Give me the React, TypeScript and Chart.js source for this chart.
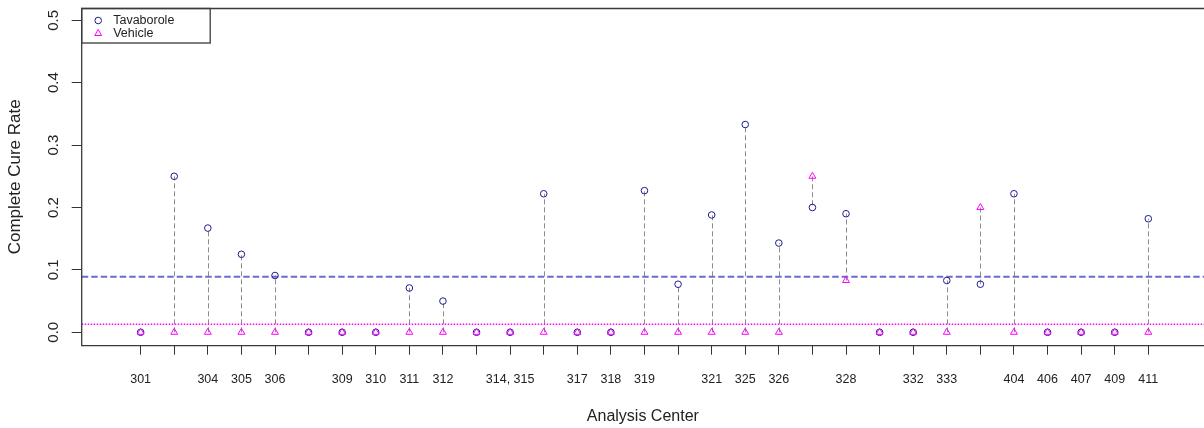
import React, { useEffect, useRef } from 'react';
import { Chart, registerables } from 'chart.js';

Chart.register(...registerables);

// Analysis centers (tick labels as displayed; blank = label hidden in the reference)
const tickLabels: string[] = [
  '301', '', '304', '305', '306', '', '309', '310', '311', '312', '', '314, 315', '', '317', '318', '319', '',
  '321', '325', '326', '', '328', '', '332', '333', '', '404', '406', '407', '409', '411',
];

// Complete cure rates per center
const tavaborole: number[] = [
  0, 0.25, 0.167, 0.125, 0.091, 0, 0, 0, 0.071, 0.05, 0, 0, 0.222, 0, 0, 0.227, 0.077,
  0.188, 0.333, 0.143, 0.2, 0.19, 0, 0, 0.083, 0.077, 0.222, 0, 0, 0, 0.182,
];
const vehicle: number[] = [
  0, 0, 0, 0, 0, 0, 0, 0, 0, 0, 0, 0, 0, 0, 0, 0, 0,
  0, 0, 0, 0.25, 0.083, 0, 0, 0, 0.2, 0, 0, 0, 0, 0,
];

// Overall rates (reference lines)
const tavaboroleOverall = 0.089;
const vehicleOverall = 0.0128;

const yTicks: number[] = [0, 0.1, 0.2, 0.3, 0.4, 0.5];

const FONT = '"Liberation Sans", Arial, sans-serif';
const TAV_COLOR = '#1c1c8e';
const VEH_COLOR = '#ff00ff';

const zeroPadding = (s: any) => {
  s.paddingTop = 0;
  s.paddingBottom = 0;
  s.paddingLeft = 0;
  s.paddingRight = 0;
};

const rPlugin = {
  id: 'rStyle',
  beforeDatasetsDraw(chart: any) {
    const { ctx, chartArea: a, scales } = chart;
    const xs = scales.x;
    const ys = scales.y;
    ctx.save();
    ctx.beginPath();
    ctx.rect(a.left, a.top, a.right - a.left, a.bottom - a.top);
    ctx.clip();
    // vertical dashed connectors between the two arms
    ctx.strokeStyle = '#8c8c8c';
    ctx.lineWidth = 1;
    ctx.setLineDash([5, 3]);
    tavaborole.forEach((t, i) => {
      const v = vehicle[i];
      if (t === v) return;
      const x = Math.round(xs.getPixelForValue(i + 1)) + 0.5;
      ctx.beginPath();
      ctx.moveTo(x, ys.getPixelForValue(v));
      ctx.lineTo(x, ys.getPixelForValue(t));
      ctx.stroke();
    });
    // overall reference lines
    ctx.strokeStyle = '#6b6bcc';
    ctx.lineWidth = 2;
    ctx.setLineDash([6.5, 3]);
    let y = ys.getPixelForValue(tavaboroleOverall);
    ctx.beginPath();
    ctx.moveTo(a.left, y);
    ctx.lineTo(a.right, y);
    ctx.stroke();
    ctx.strokeStyle = VEH_COLOR;
    ctx.lineWidth = 1.5;
    ctx.setLineDash([1.5, 1.5]);
    y = ys.getPixelForValue(vehicleOverall);
    ctx.beginPath();
    ctx.moveTo(a.left, y);
    ctx.lineTo(a.right, y);
    ctx.stroke();
    ctx.restore();
  },
  afterDraw(chart: any) {
    const { ctx, chartArea: a } = chart;
    ctx.save();
    // plot box (left, top, bottom; right edge lies beyond the picture)
    ctx.strokeStyle = '#3a3a3a';
    ctx.lineWidth = 1.3;
    ctx.setLineDash([]);
    ctx.beginPath();
    ctx.moveTo(a.right, a.top + 0.5);
    ctx.lineTo(a.left, a.top + 0.5);
    ctx.lineTo(a.left, a.bottom);
    ctx.lineTo(a.right, a.bottom);
    ctx.stroke();
    // legend box
    const lx = a.left;
    const ly = a.top + 0.5;
    const lw = 128.5;
    const lh = 34.5;
    ctx.strokeRect(lx, ly, lw, lh);
    ctx.font = `12.5px ${FONT}`;
    ctx.textBaseline = 'middle';
    ctx.textAlign = 'left';
    chart.data.datasets.forEach((ds: any, i: number) => {
      const cy = ly + 12 + i * 13;
      const cx = lx + 16.5;
      ctx.strokeStyle = ds.borderColor;
      ctx.lineWidth = 1;
      ctx.beginPath();
      if (ds.pointStyle === 'triangle') {
        const r = ds.pointRadius;
        ctx.moveTo(cx, cy - r);
        ctx.lineTo(cx + r * 0.866, cy + r * 0.5);
        ctx.lineTo(cx - r * 0.866, cy + r * 0.5);
        ctx.closePath();
      } else {
        ctx.arc(cx, cy, ds.pointRadius, 0, Math.PI * 2);
      }
      ctx.stroke();
      ctx.fillStyle = '#222';
      ctx.fillText(ds.label, lx + 31.5, cy + 0.5);
    });
    ctx.restore();
  },
};

export default function App() {
  const ref = useRef<HTMLCanvasElement>(null);
  useEffect(() => {
    const positions = tickLabels.map((_, i) => i + 1);
    const chart = new Chart(ref.current as HTMLCanvasElement, {
      type: 'scatter',
      data: {
        datasets: [
          {
            label: 'Tavaborole',
            data: positions.map((x, i) => ({ x, y: tavaborole[i] })),
            pointStyle: 'circle',
            pointRadius: 3.3,
            pointHoverRadius: 3.3,
            borderColor: TAV_COLOR,
            backgroundColor: 'rgba(0,0,0,0)',
            borderWidth: 1,
            order: 2,
          },
          {
            label: 'Vehicle',
            data: positions.map((x, i) => ({ x, y: vehicle[i] })),
            pointStyle: 'triangle',
            pointRadius: 4,
            pointHoverRadius: 4,
            borderColor: VEH_COLOR,
            backgroundColor: 'rgba(0,0,0,0)',
            borderWidth: 1,
            order: 1,
          },
        ],
      } as any,
      options: {
        responsive: false,
        animation: false,
        events: [],
        layout: { autoPadding: false, padding: { top: 8, right: 0, bottom: 0, left: 0 } },
        plugins: { legend: { display: false }, tooltip: { enabled: false } },
        scales: {
          x: {
            type: 'linear',
            min: -0.755,
            max: 32.658,
            afterBuildTicks: (s: any) => {
              s.ticks = positions.map((v) => ({ value: v }));
            },
            afterFit: (s: any) => {
              s.height = 82.3;
              zeroPadding(s);
            },
            grid: { drawOnChartArea: false, drawTicks: true, tickLength: 9, color: '#333', lineWidth: 1 },
            border: { display: false },
            ticks: {
              autoSkip: false,
              minRotation: 0,
              maxRotation: 0,
              padding: 17,
              color: '#222',
              font: { family: FONT, size: 12.5 },
              callback: (v: any) => tickLabels[Math.round(Number(v)) - 1] ?? '',
            },
            title: {
              display: true,
              text: 'Analysis Center',
              color: '#222',
              padding: { top: 0, bottom: 2 },
              font: { family: FONT, size: 16 },
            },
          },
          y: {
            type: 'linear',
            min: -0.0215,
            max: 0.5197,
            afterBuildTicks: (s: any) => {
              s.ticks = yTicks.map((v) => ({ value: v }));
            },
            afterFit: (s: any) => {
              s.width = 81.7;
              zeroPadding(s);
            },
            grid: { drawOnChartArea: false, drawTicks: true, tickLength: 10, color: '#333', lineWidth: 1 },
            border: { display: false },
            ticks: {
              autoSkip: false,
              minRotation: 90,
              maxRotation: 90,
              crossAlign: 'center',
              padding: 7,
              color: '#222',
              font: { family: FONT, size: 15 },
              callback: (v: any) => Number(v).toFixed(1),
            },
            title: {
              display: true,
              text: 'Complete Cure Rate',
              color: '#222',
              padding: { top: 5.5, bottom: 0 },
              font: { family: FONT, size: 17 },
            },
          },
        },
      } as any,
      plugins: [rPlugin],
    });
    return () => chart.destroy();
  }, []);
  return (
    <div style={{ position: 'absolute', left: 0, top: 0, width: 1204, height: 428, background: '#fff' }}>
      <canvas ref={ref} width={1204} height={428} style={{ display: 'block', width: 1204, height: 428 }} />
    </div>
  );
}
